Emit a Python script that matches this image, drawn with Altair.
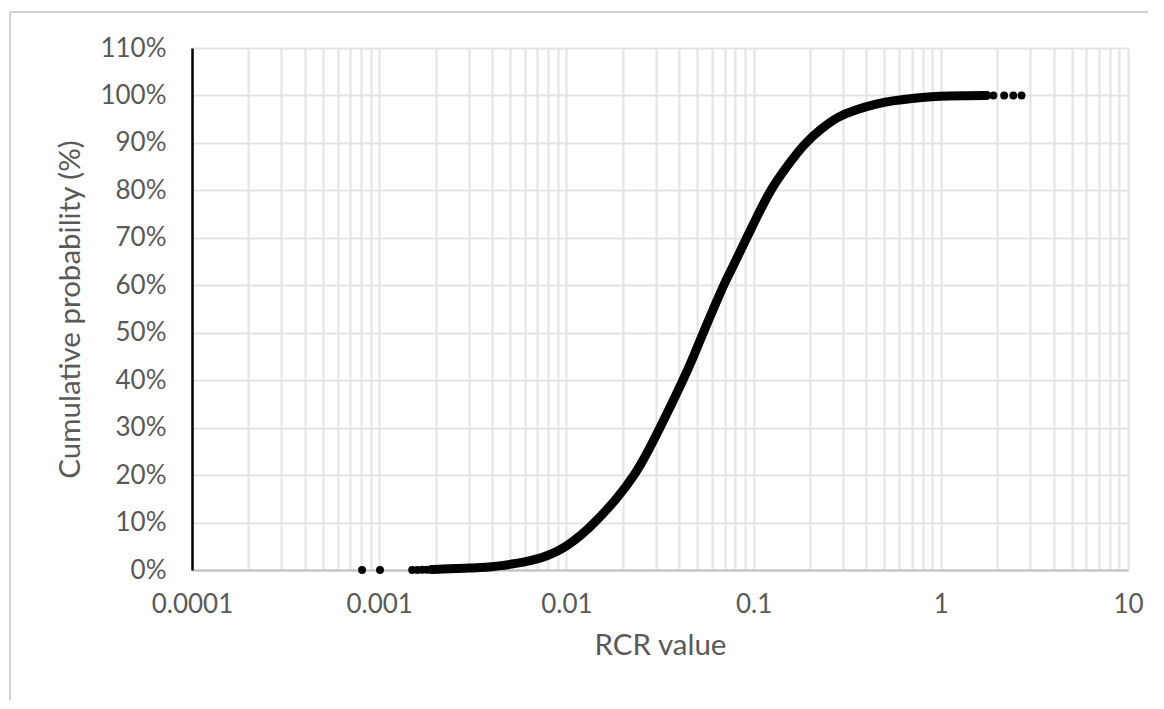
import altair as alt
import pandas as pd

# Dense part of the cumulative curve (RCR value, cumulative probability %)
curve_x = [0.0019, 0.0022, 0.0026, 0.0030, 0.0035, 0.0040, 0.0045, 0.0050, 0.0060,
           0.0070, 0.0080, 0.0090, 0.0100, 0.0120, 0.0142, 0.0186, 0.0232, 0.0273,
           0.0316, 0.0365, 0.0420, 0.0478, 0.0538, 0.0610, 0.0689, 0.0800, 0.0918,
           0.1060, 0.1225, 0.1500, 0.1880, 0.2300, 0.2800, 0.3500, 0.4500, 0.5500,
           0.7000, 0.9000, 1.1000, 1.4000, 1.7600]
curve_y = [0.1, 0.2, 0.3, 0.4, 0.5, 0.7, 0.9, 1.2, 1.7,
           2.3, 3.1, 4.0, 5.0, 7.3, 10.0, 15.0, 20.0, 25.0,
           30.0, 35.0, 40.0, 45.0, 50.0, 55.0, 60.0, 65.0, 70.0,
           75.0, 80.0, 85.0, 90.0, 93.0, 95.5, 97.0, 98.2, 98.9,
           99.4, 99.75, 99.9, 99.95, 100.0]

# Isolated tail points
tail_x = [0.00081, 0.00101, 0.00150, 0.00160, 0.00170, 0.00180, 1.91, 2.18, 2.44, 2.70]
tail_y = [0.0, 0.0, 0.0, 0.0, 0.05, 0.05, 100.0, 100.0, 100.0, 100.0]

decades = [0.0001, 0.001, 0.01, 0.1, 1, 10]
decade_labels = ["0.0001", "0.001", "0.01", "0.1", "1", "10"]
y_ticks = [0, 10, 20, 30, 40, 50, 60, 70, 80, 90, 100, 110]

grid_vals = []
for d in decades[:-1]:
    for m in range(1, 10):
        grid_vals.append(round(d * m, 10))
grid_vals.append(10)

curve = pd.DataFrame({"x": curve_x, "y": [v / 100 for v in curve_y]})
tail = pd.DataFrame({"x": tail_x, "y": [v / 100 for v in tail_y]})

GRAY = "#595959"
FONT = "Lato"

label_test = "indexof(" + str(decade_labels).replace("'", '"') + ", format(datum.value, '~g')) >= 0 ? format(datum.value, '~g') : ''"

xscale = alt.Scale(type="log", domain=[0.0001, 10], nice=False)
yscale = alt.Scale(domain=[0, 1.1], nice=False)

xaxis = alt.Axis(values=grid_vals, labelExpr=label_test, ticks=False, grid=True,
                 gridColor="#e3e3e3", gridWidth=2, domainColor="#bfbfbf", domainWidth=2,
                 labelFont=FONT, labelFontSize=26, labelColor=GRAY, labelPadding=21,
                 labelFlush=False, labelOverlap=False,
                 title="RCR value", titleFont=FONT, titleFontSize=29.5, titleFontWeight="normal",
                 titleColor=GRAY, titlePadding=14)
yaxis = alt.Axis(values=[v / 100 for v in y_ticks], format=".0%", ticks=False, grid=True,
                 gridColor="#e3e3e3", gridWidth=2, domainColor="#000000", domainWidth=2.5,
                 labelFont=FONT, labelFontSize=26, labelColor=GRAY, labelPadding=26,
                 labelOverlap=False, labelFlush=False,
                 title="Cumulative probability (%)", titleFont=FONT, titleFontSize=29.5,
                 titleFontWeight="normal", titleColor=GRAY, titlePadding=14)

line = alt.Chart(curve).mark_line(color="black", strokeWidth=9, interpolate="basis",
                                  strokeCap="round").encode(
    x=alt.X("x:Q", scale=xscale, axis=xaxis),
    y=alt.Y("y:Q", scale=yscale, axis=yaxis),
)
pts = alt.Chart(curve.iloc[[0, -1]]).mark_circle(color="black", size=62, opacity=1).encode(
    x=alt.X("x:Q", scale=xscale), y=alt.Y("y:Q", scale=yscale))
tails = alt.Chart(tail).mark_circle(color="black", size=62, opacity=1).encode(
    x=alt.X("x:Q", scale=xscale), y=alt.Y("y:Q", scale=yscale))

border = pd.DataFrame({"k": [0]})
top_border = alt.Chart(border).mark_rule(color="#d0d0d0", strokeWidth=2).encode(
    x=alt.value(-182), x2=alt.value(980), y=alt.value(-36))
left_border = alt.Chart(border).mark_rule(color="#d0d0d0", strokeWidth=2).encode(
    x=alt.value(-182), y=alt.value(-36), y2=alt.value(700))

chart = alt.layer(top_border, left_border, line, pts, tails).properties(
    width=936, height=522,
    autosize=alt.AutoSizeParams(type="none"),
    padding={"left": 184, "top": 40, "right": 20, "bottom": 130},
).configure_view(stroke=None).configure(background="white")

chart.save("out.html", embed_options={"renderer": "svg", "actions": False})
